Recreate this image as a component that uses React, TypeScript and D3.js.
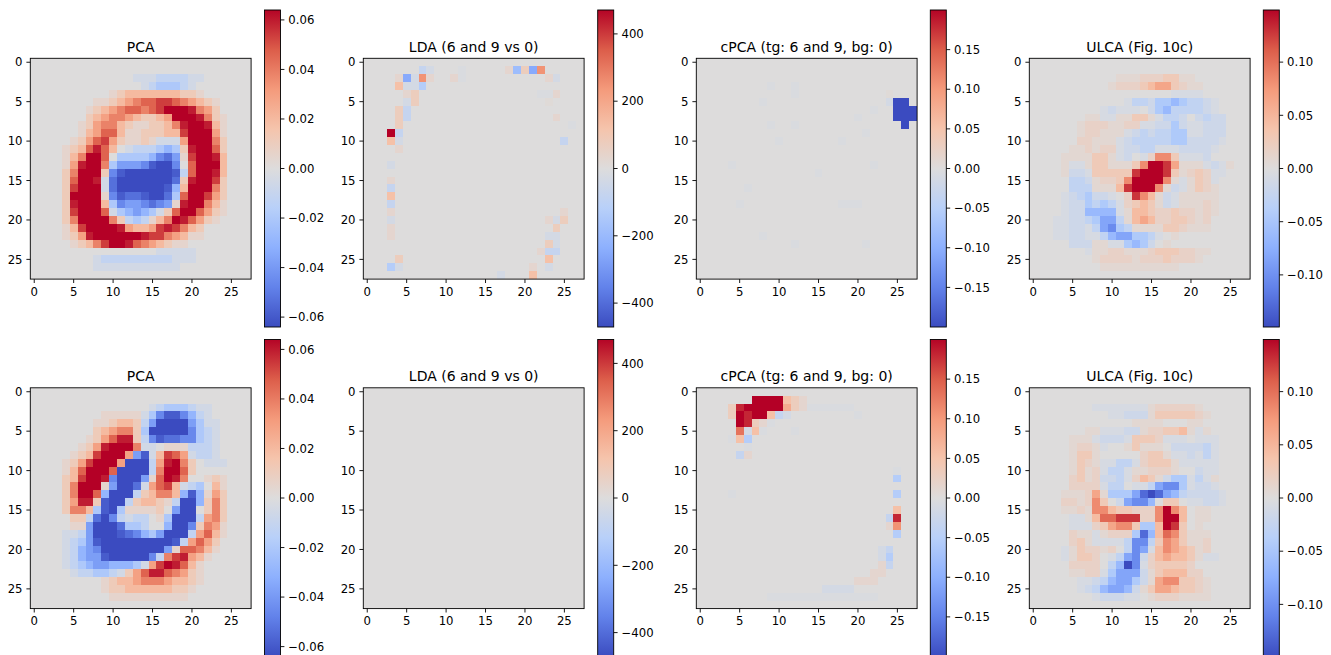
import React from "react";
import * as d3 from "d3";

// Each row: pairs of "startColumn cellCodes". "." = 0, digits 1..9 = positive steps, a..i = negative steps,
// 0 and j are the faintest positive and negative steps.
const pcaTop = [
  "", "",
  "13 aaabbbbaa",
  "14 abcccba",
  "10 123333333221",
  "8 1123456677654321",
  "7 12345665679998542",
  "7 234554322349998521",
  "6 1245532112235899831",
  "6 1346631122233799941",
  "5 12467421121aaa499952",
  "4 1236863.abbbcdc289962",
  "4 135996.ccccdfge179983",
  "4 148995ceeefhiif.69993",
  "4 259992fhiiiiiihb69983",
  "4 26998agiiiiiiig289972",
  "4 27999agiiiiiihd399952",
  "4 299991fhgghiigc699742",
  "4 289993cfeefgfe1899531",
  "4 279996acdedca26996421",
  "4 25999952bcb135986421",
  "4 137999984334787532",
  "4 124899999987754311",
  "5 123579986543211",
  "16 aaaaa",
  "8 abbbbbbbbbaaa",
  "8 aaaaaaaaaaa",
  "",
];
const pcaBottom = [
  "", "",
  "15 abcccbaa",
  "9 11111acfhhfdba",
  "8 112332beiiiiecaa",
  "8 234552ciiiiifcba",
  "7 1246882bfhggffcba",
  "6 12489995aa.111bbba",
  "5 12379994eha3764abba",
  "4 12479994iiib48952.aaa",
  "4 1369996iiiib59962",
  "4 237998fiiie16985..121",
  "4 259991eiiga4673abc.31",
  "4 25996diiib23553dhd142",
  "4 24882hiib23321biid252",
  "4 2553chic11112.eii.252",
  "5 22bgifbabb.1ciiib452",
  "5 11eiiigccb..diif2541",
  "4 aabeiiihgfdceiiib4631",
  "4 abcehiiiiiiiiihb4642",
  "4 abdefiiiiiiiie166531",
  "4 abdeehiiiiifb578431",
  "4 abcdeedddca4798631",
  "5 abbccba2468865421",
  "9 1233455543321",
  "9 122333333221",
  "10 1111111111",
  "",
];
const ldaTop = [
  "",
  "7 ba 12 j 18 1d2e5",
  "4 1ea51 11 1j 23 1a",
  "4 3aac",
  "5 12 22 jj1",
  "5 a2 23 0",
  "4 2b",
  "4 2b 24 1",
  "4 2 26 j",
  "3 9b",
  "3 3a 25 b",
  "4 1",
  "",
  "3 a",
  "",
  "3 1",
  "3 b",
  "3 3",
  "3 b",
  "3 1 25 1",
  "3 a 23 1a2",
  "3 1 24 2",
  "3 1 23 aa",
  "23 2a",
  "22 1bb",
  "4 2 23 3",
  "3 ca 21 1 23 a",
  "17 a 21 3",
];
const ldaBottom: string[] = [];
const cpcaTop = [
  "", "", "",
  "9 j 12 j",
  "12 j 24 0",
  "8 j 24 aii",
  "22 j 25 iii",
  "20 j 25 iii",
  "9 j 12 j 26 i",
  "21 j",
  "10 j 18 j",
  "", "",
  "4 j 22 j",
  "15 j",
  "",
  "6 j",
  "",
  "5 j 18 jj 20 j",
  "", "",
  "", "8 j",
  "12 j 21 j",
  "", "", "", "",
];
const cpcaBottom = [
  "",
  "7 9999321",
  "4 2899999421 14 jjjjjj",
  "4 298993ba 20 j",
  "5 9821j",
  "5 6a3j 12 j",
  "4 j3c",
  "6 j",
  "5 b1",
  "",
  "25 j",
  "25 c",
  "",
  "4 j 25 c",
  "",
  "25 3",
  "24 b8",
  "24 15",
  "25 c",
  "",
  "23 ab",
  "23 ac",
  "23 1b",
  "22 11",
  "20 111",
  "16 aaaa",
  "9 jjjjjjjjjjjjjj",
  "",
];
const ulcaTop = [
  "", "",
  "11 1112223311",
  "10 122234553211",
  "18 aaaa",
  "12 accbddedccba",
  "9 abaaa.bdeccccba",
  "7 11aa11331accb.bcbb",
  "6 12221122aabbdbaabbb",
  "6 122111abcbccddaabbb",
  "6 22111abcccccddbbbba",
  "5 112122abbccaaabbbba",
  "4 1111331ab.a2663aaab",
  "4 1aa133111369985111aba1",
  "4 1bba333338999831232aa",
  "5 ccb12236999961a132a",
  "5 ccc1114899961ba1321",
  "4 abcdbba.28641ba11111",
  "4 abbdcdca23431ba11121",
  "4 abbeeeea144322322121",
  "3 aabbcdffc14542233212",
  "3 aabbacfgdc1111332111",
  "3 aabbaaceffddca.1",
  "5 bbb11aadedb.1",
  "7 a112211123332211",
  "8 12222122232221",
  "9 1111111111",
  "",
];
const ulcaBottom = [
  "", "",
  "8 aaaaaaa1222221",
  "10 aabbb13333321",
  "13 1111...11",
  "7 11aaabb1223341a1",
  "5 111abbba3332aaa.aaa",
  "5 1221a..13111.bbbbca",
  "5 1331.....2331aabaca",
  "5 1321aacca23331aaaaa",
  "5 1312acca112221..baa",
  "5 2312bbca2431bddaca1",
  "5 2222acc.aacfggdabba",
  "4 111251dddfhihfecbbbba",
  "4 221263.bfgge.33.aabba",
  "4 1121664332226964.11",
  "5 aa1477888226994.11",
  "5 aaa235663dd4983.1",
  "5 211a1222dhe4763111",
  "5 231aaaacggc3653112",
  "4 a132212.cgfa4654312",
  "4 a1332.acfgb2454431aa",
  "5 2222.ceiga233332",
  "5 1122adfffb1344422",
  "6 aabceffdb15663321",
  "6 abceffeb135543321",
  "8 abbbaa.12221111",
  "",
];

const defaultLevels = [0, 0.07, 0.16, 0.27, 0.4, 0.53, 0.66, 0.78, 0.9, 1];
const pcaLevels = [0, 0.08, 0.18, 0.31, 0.46, 0.6, 0.72, 0.84, 0.93, 1];
const ulcaLevels = [0, 0.05, 0.11, 0.19, 0.3, 0.43, 0.56, 0.7, 0.86, 1];
const panelLevels = [pcaLevels, defaultLevels, defaultLevels, ulcaLevels];
const faintest = 0.025;
const pixelTicks = [0, 5, 10, 15, 20, 25];
const titles = ["PCA", "LDA (6 and 9 vs 0)", "cPCA (tg: 6 and 9, bg: 0)", "ULCA (Fig. 10c)"];
const panelMax = [0.064, 471, 0.2, 0.149];
const barTicks = [
  [-0.06, -0.04, -0.02, 0, 0.02, 0.04, 0.06],
  [-400, -200, 0, 200, 400],
  [-0.15, -0.1, -0.05, 0, 0.05, 0.1, 0.15],
  [-0.1, -0.05, 0, 0.05, 0.1],
];
const barFormats = [".2f", "d", ".2f", ".2f"];
const topRows = [pcaTop, ldaTop, cpcaTop, ulcaTop];
const bottomRows = [pcaBottom, ldaBottom, cpcaBottom, ulcaBottom];
const coolwarmStops = ["#3b4cc0", "#6282ea", "#8db0fe", "#b8d0f9", "#dddcdc", "#f5c4ac", "#f49a7b", "#dc5d4a", "#b40426"];

const axesLeft = [30.3, 363.3, 696.3, 1029.3];
const barLeft = [264.5, 597.7, 930.3, 1263.3];
const rowOffset = [0, 329.5];
const axesSize = 220.8;
const axesTop = 58.3;
const barTop = 10;
const barHeight = 317;
const barWidth = 16;
const tickFont = 11.7;
const titleFont = 14;
const tickLen = 3.9;
const lineW = 0.9;
const FONT = "'DejaVu Sans', sans-serif";

const coolwarm = d3
  .scaleLinear<string>()
  .domain(d3.range(coolwarmStops.length).map((i) => i / (coolwarmStops.length - 1)))
  .range(coolwarmStops)
  .interpolate(d3.interpolateRgb);

type Cell = { r: number; c: number; v: number };

function parseRows(rows: string[], max: number, levels: number[]): Cell[] {
  const cells: Cell[] = [];
  rows.forEach((row, r) => {
    const tokens = row.trim().split(/\s+/).filter(Boolean);
    for (let t = 0; t + 1 < tokens.length; t += 2) {
      const start = +tokens[t];
      Array.from(tokens[t + 1]).forEach((ch, i) => {
        let v = 0;
        if (ch === "0") v = faintest;
        else if (ch === "j") v = -faintest;
        else if (ch >= "1" && ch <= "9") v = levels[+ch];
        else if (ch >= "a" && ch <= "i") v = -levels[ch.charCodeAt(0) - 96];
        if (v !== 0 && start + i < 28) cells.push({ r, c: start + i, v: v * max });
      });
    }
  });
  return cells;
}

function Panel({ col, rowIdx }: { col: number; rowIdx: number }) {
  const off = rowOffset[rowIdx];
  const max = panelMax[col];
  const left = axesLeft[col];
  const top = axesTop + off;
  const x = d3.scaleLinear().domain([-0.5, 27.5]).range([left, left + axesSize]);
  const y = d3.scaleLinear().domain([-0.5, 27.5]).range([top, top + axesSize]);
  const norm = d3.scaleLinear().domain([-max, max]).range([0, 1]).clamp(true);
  const rows = (rowIdx === 0 ? topRows : bottomRows)[col];
  const cells = parseRows(rows, max, panelLevels[col]);
  const bTop = barTop + off;
  const bX = barLeft[col];
  const barY = d3.scaleLinear().domain([max, -max]).range([bTop, bTop + barHeight]);
  const fmt = d3.format(barFormats[col]);
  const gradId = `cw-${rowIdx}-${col}`;
  const stopTs = d3.range(0, 1.0001, 1 / (coolwarmStops.length - 1));
  return (
    <g fontFamily={FONT} fill="#000">
      <defs>
        <linearGradient id={gradId} x1="0" y1="1" x2="0" y2="0">
          {stopTs.map((t) => (
            <stop key={t} offset={t} stopColor={coolwarm(t)} />
          ))}
        </linearGradient>
      </defs>
      <rect x={left} y={top} width={axesSize} height={axesSize} fill={coolwarm(norm(0))} />
      <g shapeRendering="crispEdges" filter="url(#soft)">
        {cells.map((d) => (
          <rect
            key={`${d.r}-${d.c}`}
            x={x(d.c - 0.5)}
            y={y(d.r - 0.5)}
            width={x(d.c + 0.5) - x(d.c - 0.5)}
            height={y(d.r + 0.5) - y(d.r - 0.5)}
            fill={coolwarm(norm(d.v))}
          />
        ))}
      </g>
      <rect x={left} y={top} width={axesSize} height={axesSize} fill="none" stroke="#000" strokeWidth={lineW} />
      {pixelTicks.map((t) => (
        <g key={`x${t}`}>
          <line x1={x(t)} x2={x(t)} y1={top + axesSize} y2={top + axesSize + tickLen} stroke="#000" strokeWidth={lineW} />
          <text x={x(t)} y={top + axesSize + 16.5} textAnchor="middle" fontSize={tickFont}>{t}</text>
          <line x1={left - tickLen} x2={left} y1={y(t)} y2={y(t)} stroke="#000" strokeWidth={lineW} />
          <text x={left - 7.8} y={y(t) + 4.2} textAnchor="end" fontSize={tickFont}>{t}</text>
        </g>
      ))}
      <text x={left + axesSize / 2} y={top - 6.7} textAnchor="middle" fontSize={titleFont}>{titles[col]}</text>
      <rect x={bX} y={bTop} width={barWidth} height={barHeight} fill={`url(#${gradId})`} stroke="#000" strokeWidth={lineW} />
      {barTicks[col].map((t) => (
        <g key={`b${t}`}>
          <line x1={bX + barWidth} x2={bX + barWidth + tickLen} y1={barY(t)} y2={barY(t)} stroke="#000" strokeWidth={lineW} />
          <text x={bX + barWidth + 7.8} y={barY(t) + 4.2} fontSize={tickFont}>{fmt(t)}</text>
        </g>
      ))}
    </g>
  );
}

export default function App() {
  return (
    <svg
      width={1331}
      height={655}
      viewBox="0 0 1331 655"
      style={{ position: "absolute", left: 0, top: 0, display: "block", background: "#fff" }}
    >
      <defs>
        <filter id="soft" x="-2%" y="-2%" width="104%" height="104%">
          <feGaussianBlur stdDeviation="0.45" />
        </filter>
      </defs>
      {rowOffset.map((_, rowIdx) =>
        titles.map((_t, col) => <Panel key={`${rowIdx}-${col}`} col={col} rowIdx={rowIdx} />)
      )}
    </svg>
  );
}
